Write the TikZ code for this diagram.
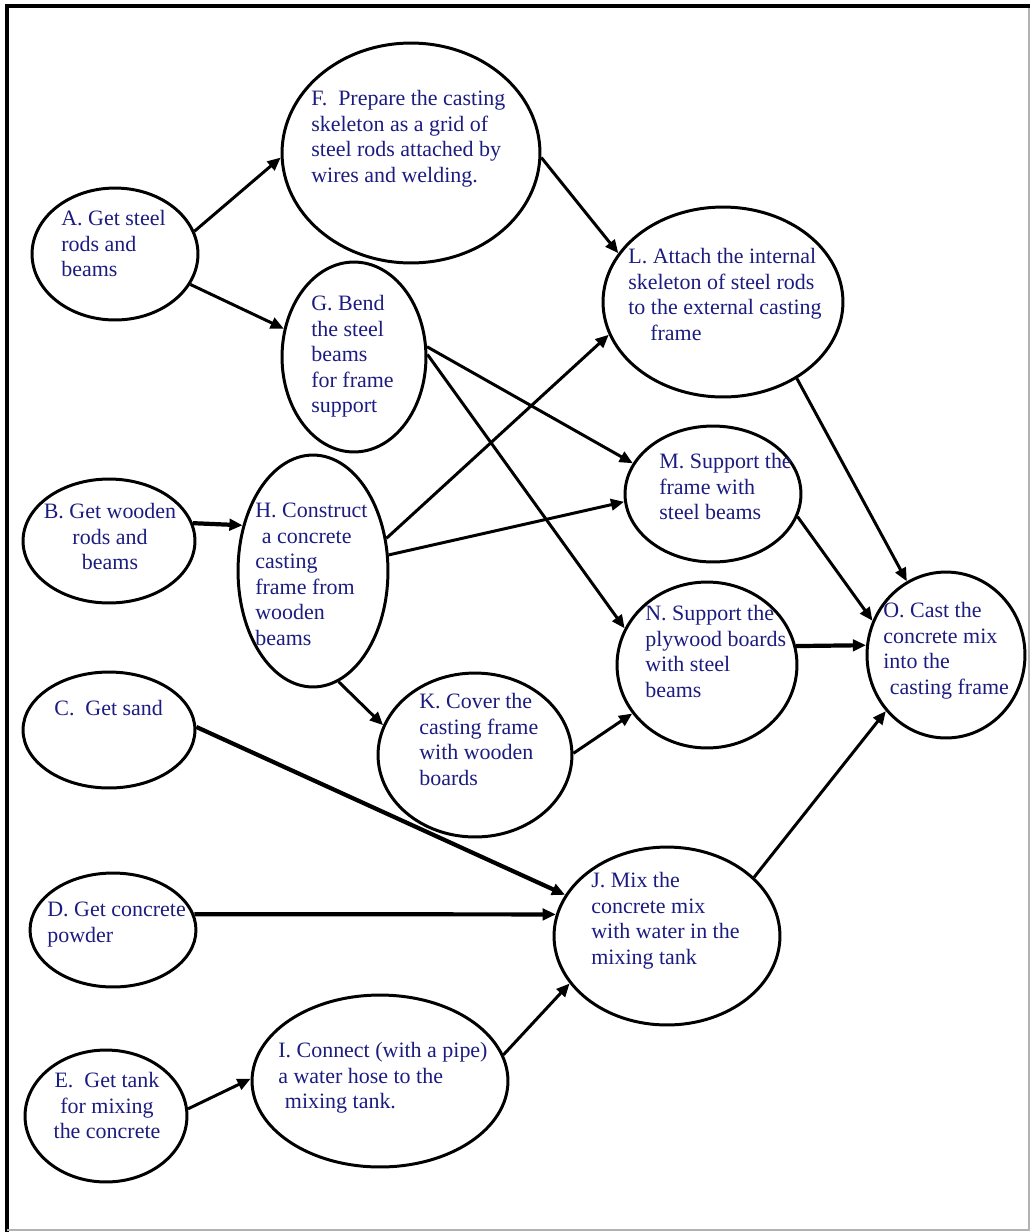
\documentclass[tikz,border=0pt]{standalone}
\usepackage{fontspec}
\setmainfont{Liberation Serif}
\newfontfamily\taskfont{Liberation Serif}
\usetikzlibrary{shapes.geometric, arrows.meta, positioning}

\definecolor{textblue}{RGB}{28,28,128}

\begin{document}
\begin{tikzpicture}[x=0.02cm, y=-0.02cm,
    % Node styles
    task/.style 2 args={ellipse, draw, line width=1.7pt, inner sep=0pt, minimum width=#1*0.04cm, minimum height=#2*0.04cm},
    tasktext/.style={anchor=north west, align=left, inner sep=0pt, text=textblue, font=\taskfont\fontsize{12.5}{14.5}\selectfont},
    % Edge styles
    flow/.style={-{Triangle[length=7.5pt, width=6.5pt]}, line width=1.7pt},
    heavy flow/.style={flow, line width=2.4pt}
]
\useasboundingbox (0,0) rectangle (1030,1232);
% Frame
\draw[line width=2pt] (1030,6) -- (7,6) -- (7,1232);
\draw[black!30, line width=0.6pt] (7,1230) -- (1029,1230) -- (1029,8);
% Task ellipses
\node[task={83}{66}] (A) at (115,254) {};
\node[task={129}{110}] (F) at (411,153) {};
\node[task={72}{95}] (G) at (354,357) {};
\node[task={86}{62}] (B) at (109,541) {};
\node[task={75}{116}] (H) at (313,571) {};
\node[task={86}{58}] (C) at (109,730) {};
\node[task={97}{82}] (K) at (475,755) {};
\node[task={83}{57}] (D) at (113,930) {};
\node[task={81}{66}] (E) at (106,1116) {};
\node[task={128}{86}] (I) at (380,1081) {};
\node[task={113}{89}] (J) at (667,936) {};
\node[task={120}{95}] (L) at (723,302) {};
\node[task={88}{68}] (M) at (713,494) {};
\node[task={90}{83}] (N) at (707,665) {};
\node[task={79}{83}] (O) at (946,655) {};
% Task texts
\node[tasktext] (A text) at (61,210) {A. Get steel\\rods and\\beams};
\node[tasktext] (F text) at (311,90) {F.~ Prepare the casting\\skeleton as a grid of\\steel rods attached by\\wires and welding.};
\node[tasktext] (G text) at (311,295) {G. Bend\\the steel\\beams\\for frame\\support};
\node[tasktext, anchor=north, align=center] (B text) at (110,503) {B. Get wooden\\rods and\\beams};
\node[tasktext] (H text) at (255,503) {H. Construct\\\hspace*{0.3em}a concrete\\casting\\frame from\\wooden\\beams};
\node[tasktext] (C text) at (54,700) {C.~ Get sand};
\node[tasktext] (K text) at (419,693) {K. Cover the\\casting frame\\with wooden\\boards};
\node[tasktext] (D text) at (47,902) {D. Get concrete\\powder};
\node[tasktext, anchor=north, align=center] (E text) at (107,1072) {E.~ Get tank\\for mixing\\the concrete};
\node[tasktext] (I text) at (278,1042) {I. Connect (with a pipe)\\a water hose to the\\\hspace*{0.3em}mixing tank.};
\node[tasktext] (J text) at (591,872) {J. Mix the\\concrete mix\\with water in the\\mixing tank};
\node[tasktext] (L text) at (628,248) {L. Attach the internal\\skeleton of steel rods\\to the external casting\\\hspace*{1em}frame};
\node[tasktext] (M text) at (659,453) {M. Support the\\frame with\\steel beams};
\node[tasktext] (N text) at (645,605) {N. Support the\\plywood boards\\with steel\\beams};
\node[tasktext] (O text) at (883,602) {O. Cast the\\concrete mix\\into the\\\hspace*{0.3em}casting frame};
% Precedence arrows
\draw[flow] (A.16) -- (F.182);
\draw[flow] (A.338) -- (G.158);
\draw[flow] (F.358) -- (L.155);
\draw[flow] (G.8) -- (M.159);
\draw[flow] (G.2) -- (N.156);
\draw[flow] (H.24) -- (L.196);
\draw[flow] (H.12) -- (M.185);
\draw[flow] (H.283) -- (K.162);
\draw[heavy flow] (B.12) -- (H.147);
\draw[heavy flow] (C.2) -- (J.158);
\draw[heavy flow] (D.11) -- (J.169);
\draw[flow] (E.5) -- (I.179);
\draw[flow] (I.12) -- (J.206);
\draw[flow] (K.1) -- (N.213);
\draw[flow] (L.314) -- (O.118);
\draw[flow] (M.345) -- (O.155);
\draw[heavy flow] (N.12) -- (O.173);
\draw[flow] (J.34) -- (O.223);
\end{tikzpicture}
\end{document}
